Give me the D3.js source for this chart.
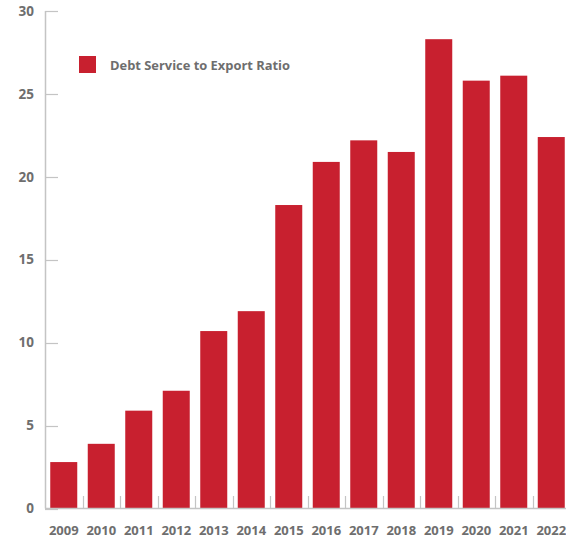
<!DOCTYPE html>
<html>
<head>
<meta charset="utf-8">
<script src="https://cdn.jsdelivr.net/npm/d3@7"></script>
<style>
  html, body { margin: 0; padding: 0; background: #fff; }
  svg text { font-family: "Open Sans", Lato, sans-serif; font-weight: 700; fill: #6e6e6e; }
</style>
</head>
<body>
<svg id="chart" width="566" height="541"></svg>
<script>
const years = ["2009","2010","2011","2012","2013","2014","2015","2016","2017","2018","2019","2020","2021","2022"];
const ratio = [2.8, 3.9, 5.9, 7.1, 10.7, 11.9, 18.3, 20.9, 22.2, 21.5, 28.3, 25.8, 26.1, 22.4];
const yTicks = [0, 5, 10, 15, 20, 25, 30];
const seriesName = "Debt Service to Export Ratio";

const svg = d3.select("#chart");
const axisColor = "#c4c4c4";
const barColor = "#c8202f";

const x = d3.scaleBand().domain(years).range([45, 570]).paddingInner(0.28).paddingOuter(0.14);
const y = d3.scaleLinear().domain([0, 30]).range([508.5, 11]);

// Bars
svg.append("g").selectAll("rect").data(years).join("rect")
  .attr("x", d => x(d))
  .attr("width", x.bandwidth())
  .attr("y", (d, i) => y(ratio[i]))
  .attr("height", (d, i) => y(0) - y(ratio[i]))
  .attr("fill", barColor);

// Y axis
const yAxis = svg.append("g");
yAxis.append("line").attr("x1", 45.5).attr("x2", 45.5).attr("y1", y(30)).attr("y2", y(0))
  .attr("stroke", axisColor).attr("stroke-width", 1.5);
yAxis.selectAll("line.tick").data(yTicks).join("line").attr("class", "tick")
  .attr("x1", 45).attr("x2", 58).attr("y1", d => Math.round(y(d)) + 0.5).attr("y2", d => Math.round(y(d)) + 0.5)
  .attr("stroke", axisColor).attr("stroke-width", 1.2);
yAxis.selectAll("text").data(yTicks).join("text")
  .attr("x", 34).attr("y", d => y(d)).attr("dy", "0.35em")
  .attr("text-anchor", "end").attr("font-size", 13.5)
  .text(d => d);

// X axis
const xAxis = svg.append("g");
xAxis.append("line").attr("x1", 45).attr("x2", 570).attr("y1", 508.5).attr("y2", 508.5)
  .attr("stroke", axisColor).attr("stroke-width", 1.5);
const bounds = years.slice(1).map(d => x(d) - x.step() * x.paddingInner() / 2);
xAxis.selectAll("line.tick").data(bounds).join("line").attr("class", "tick")
  .attr("x1", d => Math.round(d) + 0.5).attr("x2", d => Math.round(d) + 0.5)
  .attr("y1", 496).attr("y2", 508)
  .attr("stroke", axisColor).attr("stroke-width", 1.2);
xAxis.selectAll("text").data(years).join("text")
  .attr("x", d => x(d) + x.bandwidth() / 2).attr("y", 530).attr("dy", "0.35em")
  .attr("text-anchor", "middle").attr("font-size", 13)
  .text(d => d);

// Legend
const legend = svg.append("g");
legend.append("rect").attr("x", 79).attr("y", 56).attr("width", 17).attr("height", 17).attr("fill", barColor);
legend.append("text").attr("x", 110).attr("y", 65).attr("dy", "0.35em").attr("font-size", 12.9).text(seriesName);
</script>
</body>
</html>
